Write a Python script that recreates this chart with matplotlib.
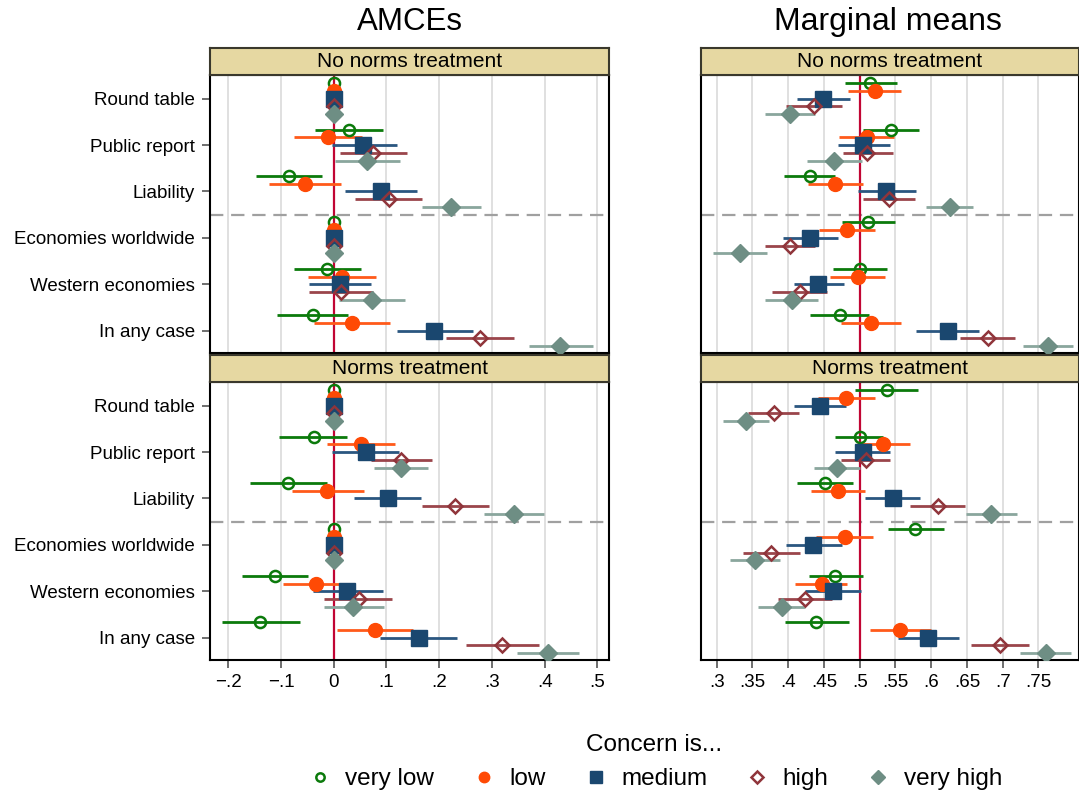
import matplotlib
matplotlib.use("Agg")
import matplotlib.pyplot as plt
from matplotlib.lines import Line2D
from matplotlib.patches import Rectangle

plt.rcParams['font.family'] = ['Liberation Sans', 'DejaVu Sans']

categories = ["Round table", "Public report", "Liability",
              "Economies worldwide", "Western economies", "In any case"]
levels = ["very low", "low", "medium", "high", "very high"]

# AMCEs, no norms treatment (rows = levels, cols = categories)
amce_none_est = [[0, 0.028, -0.085, 0, -0.013, -0.040],
                 [0, -0.011, -0.054, 0, 0.016, 0.034],
                 [0, 0.056, 0.089, 0, 0.011, 0.191],
                 [0, 0.074, 0.104, 0, 0.014, 0.277],
                 [0, 0.063, 0.223, 0, 0.072, 0.430]]
amce_none_lo = [[0, -0.035, -0.147, 0, -0.075, -0.108],
                [0, -0.075, -0.122, 0, -0.049, -0.037],
                [0, -0.004, 0.021, 0, -0.047, 0.120],
                [0, 0.012, 0.041, 0, -0.046, 0.213],
                [0, 0.002, 0.168, 0, 0.009, 0.370]]
amce_none_hi = [[0, 0.093, -0.022, 0, 0.051, 0.027],
                [0, 0.054, 0.013, 0, 0.080, 0.106],
                [0, 0.120, 0.158, 0, 0.070, 0.264],
                [0, 0.138, 0.168, 0, 0.074, 0.341],
                [0, 0.125, 0.279, 0, 0.136, 0.492]]

# AMCEs, norms treatment
amce_norm_est = [[0, -0.038, -0.087, 0, -0.111, -0.139],
                 [0, 0.052, -0.012, 0, -0.034, 0.078],
                 [0, 0.061, 0.103, 0, 0.026, 0.161],
                 [0, 0.128, 0.230, 0, 0.047, 0.320],
                 [0, 0.127, 0.342, 0, 0.037, 0.406]]
amce_norm_lo = [[0, -0.103, -0.159, 0, -0.174, -0.212],
                [0, -0.013, -0.080, 0, -0.096, 0.006],
                [0, -0.004, 0.039, 0, -0.039, 0.088],
                [0, 0.071, 0.167, 0, -0.018, 0.251],
                [0, 0.076, 0.285, 0, -0.019, 0.348]]
amce_norm_hi = [[0, 0.026, -0.013, 0, -0.049, -0.064],
                [0, 0.116, 0.057, 0, 0.031, 0.151],
                [0, 0.124, 0.166, 0, 0.093, 0.234],
                [0, 0.187, 0.294, 0, 0.111, 0.390],
                [0, 0.179, 0.399, 0, 0.095, 0.466]]

# Marginal means, no norms treatment
mm_none_est = [[0.515, 0.544, 0.430, 0.512, 0.500, 0.472],
               [0.521, 0.510, 0.466, 0.482, 0.497, 0.516],
               [0.449, 0.505, 0.537, 0.431, 0.442, 0.623],
               [0.436, 0.510, 0.541, 0.402, 0.416, 0.679],
               [0.402, 0.464, 0.626, 0.333, 0.405, 0.763]]
mm_none_lo = [[0.479, 0.505, 0.394, 0.475, 0.462, 0.431],
              [0.483, 0.471, 0.428, 0.443, 0.459, 0.474],
              [0.412, 0.470, 0.498, 0.393, 0.408, 0.579],
              [0.397, 0.476, 0.505, 0.367, 0.378, 0.640],
              [0.368, 0.426, 0.593, 0.295, 0.368, 0.728]]
mm_none_hi = [[0.552, 0.583, 0.466, 0.550, 0.538, 0.513],
              [0.558, 0.548, 0.505, 0.521, 0.535, 0.558],
              [0.486, 0.542, 0.579, 0.470, 0.478, 0.667],
              [0.475, 0.546, 0.577, 0.438, 0.454, 0.717],
              [0.437, 0.503, 0.658, 0.370, 0.442, 0.798]]

# Marginal means, norms treatment
mm_norm_est = [[0.538, 0.500, 0.451, 0.578, 0.466, 0.439],
               [0.481, 0.532, 0.470, 0.479, 0.447, 0.557],
               [0.445, 0.504, 0.546, 0.435, 0.463, 0.596],
               [0.380, 0.509, 0.609, 0.376, 0.423, 0.696],
               [0.341, 0.468, 0.684, 0.354, 0.391, 0.760]]
mm_norm_lo = [[0.494, 0.466, 0.412, 0.539, 0.429, 0.396],
              [0.442, 0.496, 0.432, 0.439, 0.410, 0.515],
              [0.408, 0.465, 0.508, 0.397, 0.423, 0.553],
              [0.344, 0.474, 0.571, 0.337, 0.385, 0.656],
              [0.309, 0.436, 0.648, 0.319, 0.358, 0.724]]
mm_norm_hi = [[0.581, 0.533, 0.490, 0.618, 0.504, 0.485],
              [0.521, 0.570, 0.507, 0.519, 0.482, 0.599],
              [0.481, 0.542, 0.584, 0.475, 0.502, 0.639],
              [0.415, 0.542, 0.647, 0.416, 0.461, 0.737],
              [0.373, 0.500, 0.720, 0.389, 0.424, 0.795]]

amce_ticks = [-0.2, -0.1, 0, 0.1, 0.2, 0.3, 0.4, 0.5]
amce_ticklabels = ["\u2212.2", "\u2212.1", "0", ".1", ".2", ".3", ".4", ".5"]
mm_ticks = [0.3, 0.35, 0.4, 0.45, 0.5, 0.55, 0.6, 0.65, 0.7, 0.75]
mm_ticklabels = [".3", ".35", ".4", ".45", ".5", ".55", ".6", ".65", ".7", ".75"]

# styles
mcolors = ["#0b7a0b", "#ff4a05", "#1a476f", "#90353b", "#6e8e84"]
ccolors = ["#0b7a0b", "#ff5a1a", "#2a5680", "#9a454b", "#8aa69d"]
markers = ["o", "o", "s", "D", "D"]
msizes = [8, 10, 11, 7.5, 9]
filled = [False, True, True, False, True]
offsets = [-2 / 6, -1 / 6, 0, 1 / 6, 2 / 6]

W, H = 1079, 797
fig = plt.figure(figsize=(W / 100, H / 100), dpi=100)


def fx(px):
    return px / W


def fy(py):
    return 1 - py / H


panels = [
    (210, 609, 75, 353, amce_none_est, amce_none_lo, amce_none_hi, amce_ticks, amce_ticklabels,
     (-0.2347, 0.522), 0.0, "No norms treatment", True, False),
    (210, 609, 382, 660, amce_norm_est, amce_norm_lo, amce_norm_hi, amce_ticks, amce_ticklabels,
     (-0.2347, 0.522), 0.0, "Norms treatment", True, True),
    (701, 1079, 75, 353, mm_none_est, mm_none_lo, mm_none_hi, mm_ticks, mm_ticklabels,
     (0.278, 0.8067), 0.5, "No norms treatment", False, False),
    (701, 1079, 382, 660, mm_norm_est, mm_norm_lo, mm_norm_hi, mm_ticks, mm_ticklabels,
     (0.278, 0.8067), 0.5, "Norms treatment", False, True),
]

ypos = list(range(1, len(categories) + 1))

for (x0, x1, y0, y1, est, lo, hi, ticks, tlabels, xlim, ref, strip, ylab, xlab) in panels:
    ax = fig.add_axes([fx(x0), fy(y1), fx(x1) - fx(x0), (y1 - y0) / H])
    ax.set_xlim(*xlim)
    ax.set_ylim(6.48, 0.49)
    ax.set_xticks(ticks)
    for t in ticks:
        ax.axvline(t, color="#dddddd", lw=1.3, zorder=0)
    ax.axhline(3.5, color="#a0a0a0", lw=1.6, dashes=(6, 3.5), zorder=1)
    ax.axvline(ref, color="#c10534", lw=1.6, zorder=2)
    for k in range(len(levels)):
        ys = [y + offsets[k] for y in ypos]
        for j in range(len(categories)):
            if hi[k][j] != lo[k][j]:
                ax.plot([lo[k][j], hi[k][j]], [ys[j], ys[j]], color=ccolors[k], lw=2.0,
                        solid_capstyle="butt", zorder=3)
        if filled[k]:
            ax.plot(est[k], ys, linestyle="none", marker=markers[k], ms=msizes[k],
                    color=mcolors[k], mec=mcolors[k], zorder=4)
        else:
            ax.plot(est[k], ys, linestyle="none", marker=markers[k], ms=msizes[k],
                    mfc="none", mec=mcolors[k], mew=1.8, zorder=4)
    for s in ax.spines.values():
        s.set_linewidth(1.5)
        s.set_color("black")
    if ylab:
        ax.set_yticks(ypos)
        ax.set_yticklabels(categories, fontsize=13.5)
        ax.tick_params(axis="y", length=6, width=1.2, color="#555555", pad=5)
    else:
        ax.set_yticks([])
    if xlab:
        ax.set_xticklabels(tlabels, fontsize=13.5)
        ax.tick_params(axis="x", length=6, width=1.2, color="#555555", pad=4)
    else:
        ax.tick_params(axis="x", length=0, labelbottom=False)
    # strip
    sax = fig.add_axes([fx(x0), fy(y0), fx(x1) - fx(x0), 27 / H])
    sax.set_xlim(0, 1)
    sax.set_ylim(0, 1)
    sax.add_patch(Rectangle((0, 0), 1, 1, facecolor="#e6d8a2", edgecolor="none"))
    for s in sax.spines.values():
        s.set_linewidth(1.5)
        s.set_color("#3a382c")
    sax.set_xticks([])
    sax.set_yticks([])
    sax.text(0.5, 0.5, strip, ha="center", va="center", fontsize=15)

fig.text(fx(410), fy(22), "AMCEs", ha="center", va="center", fontsize=22.5)
fig.text(fx(888), fy(22), "Marginal means", ha="center", va="center", fontsize=23)

handles = []
for k in range(len(levels)):
    if filled[k]:
        h = Line2D([], [], linestyle="none", marker=markers[k], ms=msizes[k] * 0.75,
                   color=mcolors[k])
    else:
        h = Line2D([], [], linestyle="none", marker=markers[k], ms=msizes[k] * 0.75,
                   mfc="none", mec=mcolors[k], mew=1.8)
    handles.append(h)

fig.text(fx(654), fy(745), "Concern is...", ha="center", va="center", fontsize=17.5)
fig.legend(handles, levels, loc="center", bbox_to_anchor=(fx(656), fy(779)), ncol=5,
           frameon=False, fontsize=17.5, handlelength=0.8, handletextpad=0.65,
           columnspacing=1.65, borderpad=0)

fig.savefig("out.png", dpi=100)
